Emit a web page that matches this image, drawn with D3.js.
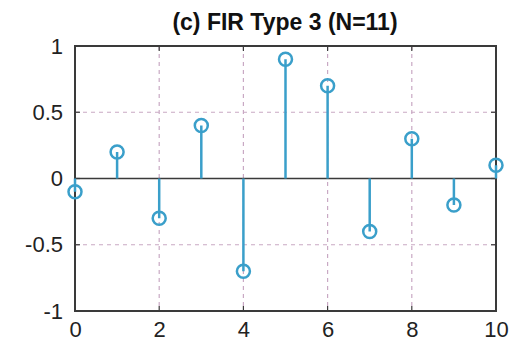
<!DOCTYPE html>
<html>
<head>
<meta charset="utf-8">
<script src="https://cdn.jsdelivr.net/npm/d3@7"></script>
<style>
  html, body { margin: 0; padding: 0; background: #fff; }
  svg { display: block; }
</style>
</head>
<body>
<svg id="chart" width="512" height="342"></svg>
<script>
// Impulse response of a type-3 FIR filter, N = 11 (odd length, antisymmetric-style taps)
const sampleIndex = [0, 1, 2, 3, 4, 5, 6, 7, 8, 9, 10];
const coefficients = [-0.1, 0.2, -0.3, 0.4, -0.7, 0.9, 0.7, -0.4, 0.3, -0.2, 0.1];
const xTicks = [0, 2, 4, 6, 8, 10];
const yTicks = [-1, -0.5, 0, 0.5, 1];
const yTickLabels = ["-1", "-0.5", "0", "0.5", "1"];
const title = "(c) FIR Type 3 (N=11)";

const svg = d3.select("#chart");
const plot = { left: 75, right: 496, top: 46, bottom: 311 };

const x = d3.scaleLinear().domain([0, 10]).range([plot.left, plot.right]);
const y = d3.scaleLinear().domain([-1, 1]).range([plot.bottom, plot.top]);

const stemColor = "#3a9fca";
const gridColor = "#c9a9c4";
const frameColor = "#3a3a3a";

// dashed grid
const grid = svg.append("g");
grid.selectAll("line.v").data(xTicks.slice(1, -1)).join("line")
  .attr("x1", d => x(d)).attr("x2", d => x(d))
  .attr("y1", plot.top).attr("y2", plot.bottom)
  .attr("stroke", gridColor).attr("stroke-width", 1.2)
  .attr("stroke-dasharray", "4,4");
grid.selectAll("line.h").data([-0.5, 0.5]).join("line")
  .attr("x1", plot.left).attr("x2", plot.right)
  .attr("y1", d => y(d)).attr("y2", d => y(d))
  .attr("stroke", gridColor).attr("stroke-width", 1.2)
  .attr("stroke-dasharray", "4,4");

// axes with labels
const xAxis = d3.axisBottom(x).tickValues(xTicks).tickSize(0).tickPadding(10).tickFormat(d3.format("d"));
const yAxis = d3.axisLeft(y).tickValues(yTicks).tickSize(0).tickPadding(12)
  .tickFormat((d, i) => yTickLabels[i]);

const gx = svg.append("g").attr("transform", `translate(0,${plot.bottom})`).call(xAxis);
const gy = svg.append("g").attr("transform", `translate(${plot.left},0)`).call(yAxis);
[gx, gy].forEach(g => {
  g.select(".domain").remove();
  g.selectAll("text")
    .attr("font-family", "Liberation Sans, Arial, sans-serif")
    .attr("font-size", 22)
    .attr("fill", "#222");
});
gx.selectAll("text").attr("dy", "0.71em");

// inward tick marks on all four sides
const tickLen = 5;
const ticks = svg.append("g").attr("stroke", frameColor).attr("stroke-width", 1.2);
xTicks.forEach(t => {
  ticks.append("line").attr("x1", x(t)).attr("x2", x(t)).attr("y1", plot.bottom).attr("y2", plot.bottom - tickLen);
  ticks.append("line").attr("x1", x(t)).attr("x2", x(t)).attr("y1", plot.top).attr("y2", plot.top + tickLen);
});
yTicks.forEach(t => {
  ticks.append("line").attr("x1", plot.left).attr("x2", plot.left + tickLen).attr("y1", y(t)).attr("y2", y(t));
  ticks.append("line").attr("x1", plot.right).attr("x2", plot.right - tickLen).attr("y1", y(t)).attr("y2", y(t));
});

// zero baseline
svg.append("line")
  .attr("x1", plot.left).attr("x2", plot.right)
  .attr("y1", y(0)).attr("y2", y(0))
  .attr("stroke", frameColor).attr("stroke-width", 1.6);

// frame
svg.append("rect")
  .attr("x", plot.left).attr("y", plot.top)
  .attr("width", plot.right - plot.left).attr("height", plot.bottom - plot.top)
  .attr("fill", "none").attr("stroke", frameColor).attr("stroke-width", 2);

// stems and circle markers
const data = sampleIndex.map((n, i) => ({ n, v: coefficients[i] }));
svg.append("g").selectAll("line").data(data).join("line")
  .attr("x1", d => x(d.n)).attr("x2", d => x(d.n))
  .attr("y1", y(0)).attr("y2", d => y(d.v))
  .attr("stroke", stemColor).attr("stroke-width", 2.5);
svg.append("g").selectAll("circle").data(data).join("circle")
  .attr("cx", d => x(d.n)).attr("cy", d => y(d.v))
  .attr("r", 6.5)
  .attr("fill", "none")
  .attr("stroke", stemColor).attr("stroke-width", 2.5);

// title
svg.append("text")
  .attr("x", 285).attr("y", 30)
  .attr("text-anchor", "middle")
  .attr("font-family", "Liberation Sans Narrow, Arial Narrow, Liberation Sans, sans-serif")
  .attr("font-weight", "bold")
  .attr("font-size", 23)
  .attr("fill", "#111")
  .text(title);
</script>
</body>
</html>
